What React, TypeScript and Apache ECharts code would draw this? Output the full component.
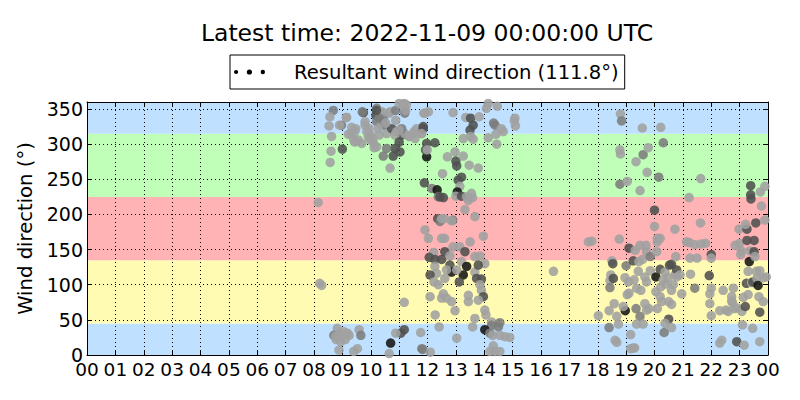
import React, { useEffect, useRef } from "react";
import * as echarts from "echarts";

const TITLE = "Latest time: 2022-11-09 00:00:00 UTC";
const LEGEND_NAME = "Resultant wind direction (111.8°)";
const Y_NAME = "Wind direction (°)";

// [hour of day, direction in degrees, shade index]
const morningPoints: number[][] = [
  [8.15,217,0],[8.2,102,0],[8.27,99,0],
  [8.68,348,1],[8.56,339,0],[8.53,326,0],[8.62,311,0],[8.6,290,0],[8.57,274,0],[9.0,293,2],[9.15,338,0],[8.97,327,1],
  [9.74,345,2],[9.33,324,0],[9.44,318,0],[9.21,314,0],[9.56,306,0],[9.8,327,0],[9.86,318,0],[9.91,311,0],[9.68,301,0],[9.44,303,0],[9.97,306,0],
  [10.21,351,1],[10.18,341,2],[10.32,344,0],[10.44,337,1],[10.68,346,0],[10.21,332,1],[10.38,327,0],[10.5,327,1],[10.26,322,0],[10.56,315,0],[10.74,322,2],[10.91,318,0],[11.09,313,2],[10.85,313,0],[11.2,315,0],[11.36,311,0],[11.5,315,0],[11.62,322,0],[11.85,325,2],[11.79,315,0],[11.56,308,0],[11.91,344,0],[12.03,346,0],
  [11.15,356,0],[11.26,356,0],[11.2,349,0],[11.2,344,1],[11.09,322,1],[11.0,303,2],[11.03,289,2],[10.85,294,2],[10.79,283,2],[10.44,283,1],[10.68,266,0],[10.56,294,1],[10.21,296,0],[10.09,303,0],[10.0,313,0],[10.12,295,0],[10.3,313,0],[10.65,344,0],[10.4,346,0],[10.3,337,1],[10.53,330,0],[10.88,334,0],[11.0,320,0],[11.35,311,0],[11.53,318,0],[9.3,315,0],[9.47,322,0],[9.4,306,0],[9.14,338,0],[8.9,327,0],[9.7,346,1],[9.8,332,0],[9.94,322,0],[10.06,308,0],[10.2,348,2],[10.88,348,1],[11.0,358,0],[11.18,358,0],[11.23,348,0],
  [11.97,301,2],[11.97,282,3],[11.93,292,2],[11.87,344,0],[11.85,322,2],[11.79,315,0],
  [8.82,38,0],[8.7,28,1],[8.76,26,0],[8.88,31,0],[8.94,19,0],[9.0,28,0],[9.18,31,0],[9.24,28,0],[9.06,33,0],[9.59,36,0],[9.65,28,1],[9.53,9,0],[9.4,5,0],[8.88,7,0],[8.78,22,0],[9.1,22,0],
  [11.18,75,0],[11.18,36,2],[11.06,31,2],[10.88,31,0],[10.7,17,3],[10.65,2,0],[11.76,32,0],[11.8,9,1],[11.83,8,1],
];

const noonPoints: number[][] = [
  [11.89,245,2],[12.15,237,1],[12.34,235,3],[12.38,225,1],[12.44,225,2],[12.56,224,2],[12.36,194,2],[12.44,190,1],[12.89,192,1],
  [12.26,302,2],[11.99,292,0],[12.9,345,0],[13.35,338,0],[13.52,337,2],[13.82,339,0],[13.61,327,2],[13.5,320,2],[13.52,311,0],[13.61,307,0],[13.26,308,0],
  [14.14,358,0],[14.46,354,0],[14.08,351,0],[14.38,327,1],[14.33,330,1],[14.67,318,0],[14.6,322,0],[14.41,314,0],[14.14,309,0],[14.44,300,0],[15.08,337,0],[15.1,326,0],[15.06,333,0],
  [12.97,289,0],[13.0,276,2],[13.03,269,2],[13.26,283,0],[13.47,270,0],[13.79,266,0],[12.7,282,0],[12.53,258,0],[13.2,253,2],[13.08,249,2],[13.14,240,0],
  [13.05,232,3],[13.0,226,0],[13.2,226,2],[13.38,225,0],[13.55,230,0],[13.44,220,0],[13.59,224,0],[13.32,207,0],[13.67,197,0],
  [11.91,178,0],[12.03,166,0],[12.5,166,0],[12.6,166,0],[12.5,194,0],[12.6,194,0],[12.85,191,0],[13.5,161,0],[13.97,169,0],[12.9,154,0],[13.14,154,0],
  [12.22,146,0],[12.06,139,2],[12.26,136,2],[12.5,136,2],[12.61,147,2],[12.79,141,0],[13.32,147,2],[13.67,140,0],[13.85,141,0],[13.2,133,0],[13.38,126,3],[13.26,114,3],[13.12,104,2],[12.79,128,2],[12.85,118,3],[12.26,126,0],[12.32,116,0],[12.09,114,2],[12.23,104,0],[12.38,100,0],[12.67,121,0],[12.61,109,0],[13.03,121,0],[13.67,118,0],[13.73,109,2],[13.9,108,2],[14.02,130,0],[13.79,128,2],[13.85,100,0],[13.9,92,0],[13.97,83,2],[13.79,78,0],[13.44,85,0],[13.44,76,0],[12.56,87,0],[12.67,81,0],[12.5,81,0],[12.85,76,0],[12.09,83,0],[12.97,63,0],[14.02,64,0],[14.06,57,0],[13.67,52,0],[13.59,40,0],[12.41,40,0],[12.27,57,0],
  [14.26,47,0],[14.55,46,1],[14.26,42,1],[14.5,40,1],[14.02,36,3],[14.2,31,1],[14.3,28,0],[14.55,28,0],[14.73,26,0],[14.9,25,0],[13.03,24,0],[14.32,13,0],[14.2,5,0],[14.38,5,0],[14.55,5,0],[12.1,4,0],
  [16.44,119,0],
];

const eveningPoints: number[][] = [
  [17.67,161,0],[17.79,162,0],[18.02,56,0],[18.4,39,1],[18.46,114,0],[18.5,134,0],[18.43,106,0],[18.43,96,1],[18.53,130,2],[18.55,109,2],[18.58,73,0],[18.4,63,0],[18.67,55,0],[18.73,44,0],[18.61,21,0],[18.67,18,0],[18.76,165,0],[18.8,343,0],[18.84,333,1],[18.78,292,0],[18.8,286,0],[18.78,243,1],
  [18.97,63,3],[18.9,69,0],[19.0,127,1],[18.96,110,0],[19.1,152,2],[19.04,247,0],[19.08,104,0],[19.04,86,0],[19.1,88,0],[19.16,29,0],[19.16,9,0],[19.25,10,0],[19.3,10,0],[19.25,134,2],[19.28,107,0],[19.35,66,1],[19.37,95,0],[19.43,119,0],[19.45,133,0],[19.32,149,0],[19.49,156,0],[19.49,55,1],[19.52,92,0],[19.37,44,0],[19.35,275,0],[19.49,234,0],[19.58,136,0],[19.6,285,1],[19.57,323,0],[19.7,156,0],[19.72,147,0],[19.66,111,0],[19.72,104,0],[19.66,73,0],[19.72,64,0],[19.6,44,0],[19.74,260,0],[19.78,295,0],[19.85,140,1],[19.85,120,0],[19.8,66,0],
];

const nightPoints: number[][] = [
  [20.0,206,2],[20.0,183,0],[20.05,111,3],[20.05,90,0],[20.1,66,0],[20.1,166,0],[20.08,147,0],[20.1,161,0],[20.2,166,0],[20.15,253,1],[20.22,324,0],[20.31,302,1],[20.2,122,2],[20.22,97,0],[20.2,83,0],[20.25,76,0],[20.31,107,0],[20.37,118,0],[20.4,101,0],[20.48,110,0],[20.53,128,2],[20.6,129,2],[20.5,51,2],[20.37,45,0],[20.6,39,0],[20.34,32,1],[20.5,76,0],[20.6,72,0],[20.6,92,0],[20.66,100,0],[20.72,114,0],[20.78,121,2],[20.78,111,0],[20.9,114,0],[20.72,179,0],[20.75,140,0],[20.96,87,0],
  [21.13,161,0],[21.23,160,0],[21.22,224,0],[21.25,138,0],[21.27,115,0],[21.42,157,0],[21.5,138,0],[21.42,95,1],[21.62,188,0],[21.63,251,0],[21.64,158,0],[21.8,159,0],[22.0,143,2],[22.0,138,0],[21.93,113,2],[22.0,95,0],[21.95,87,0],[21.95,73,0],[22.0,56,0],
  [22.37,21,0],[22.3,17,0],[22.3,63,0],[22.42,92,0],[22.52,64,0],[22.6,62,0],[22.72,83,0],[22.72,77,0],[22.78,95,0],[22.75,74,0],[22.82,66,0],[22.9,19,2],[22.92,67,0],[22.84,156,0],[22.98,179,0],
  [23.0,159,0],[23.04,143,0],[23.06,148,0],[23.08,62,0],[23.1,43,0],[23.13,82,0],[23.16,14,0],[23.2,69,2],[23.26,179,2],[23.21,186,0],[23.26,163,2],[23.3,119,0],[23.24,102,2],[23.3,86,0],[23.34,133,3],[23.36,148,0],[23.39,241,2],[23.39,228,2],[23.4,222,2],[23.42,103,0],[23.46,38,0],[23.47,104,2],[23.51,147,2],[23.51,163,2],[23.54,140,0],[23.57,188,2],[23.59,119,0],[23.61,109,0],[23.65,99,3],[23.68,83,0],[23.71,61,2],[23.71,19,0],[23.73,232,0],[23.77,212,0],[23.83,110,0],[23.83,76,0],[23.89,240,0],[23.89,192,0],[23.94,111,0],[23.71,120,0],
];

// sector bands: [from°, to°]
const bandRanges: number[][] = [
  [0, 45], [45, 135], [135, 225], [225, 315], [315, 360],
];
const bandColors = ["#bfe0ff", "#fffbb3", "#ffb3b5", "#bfffb8", "#bfe0ff"];
const shadeColors = ["#a0a0a0", "#7c7c7c", "#505050", "#151515"];

const FONT = "DejaVu Sans";

export default function App() {
  const ref = useRef<HTMLDivElement>(null);
  useEffect(() => {
    document.body.style.margin = "0";
    if (!ref.current) return;
    const chart = echarts.init(ref.current, null, { renderer: "svg" });
    const allPoints = [...morningPoints, ...noonPoints, ...eveningPoints, ...nightPoints];
    const pad2 = (v: number) => String(Math.round(v) % 24).padStart(2, "0");
    const dotted = { color: "#000", width: 1, type: [1, 3] as number[] };
    const common = { min: 0, interval: 1, max: 24, type: "value" as const };
    chart.setOption({
      animation: false,
      textStyle: { fontFamily: FONT },
      title: {
        text: TITLE,
        left: 427,
        textAlign: "center",
        top: 21,
        padding: 0,
        textStyle: { fontFamily: FONT, fontSize: 23.5, fontWeight: "normal", color: "#000" },
      },
      legend: {
        left: 230,
        top: 55,
        padding: [6, 6, 6, 4],
        borderColor: "#000",
        borderWidth: 1,
        borderRadius: 0,
        itemWidth: 31,
        itemHeight: 6,
        data: [
          {
            name: LEGEND_NAME,
            icon: "path://M0,3a2.1,2.1 0 1,0 4.2,0a2.1,2.1 0 1,0 -4.2,0ZM12.9,3a2.6,2.6 0 1,0 5.2,0a2.6,2.6 0 1,0 -5.2,0ZM26.8,3a2.2,2.2 0 1,0 4.4,0a2.2,2.2 0 1,0 -4.4,0Z",
            itemStyle: { color: "#000", opacity: 1 },
          },
        ],
        textStyle: { fontFamily: FONT, fontSize: 19.6, color: "#000", padding: [0, 0, 0, 24], lineHeight: 22 },
        selectedMode: false,
      },
      grid: { left: 87, right: 32, top: 102, bottom: 45 },
      xAxis: [
        {
          ...common,
          position: "bottom",
          z: 3,
          axisLine: { show: true, lineStyle: { color: "#000", width: 1 } },
          axisTick: { show: true, inside: true, length: 5, lineStyle: { color: "#000" } },
          axisLabel: { formatter: pad2, fontFamily: FONT, fontSize: 18.5, color: "#000", margin: 5 },
          splitLine: { show: true, lineStyle: dotted },
        },
        {
          ...common,
          position: "top",
          z: 3,
          axisLine: { show: true, onZero: false, lineStyle: { color: "#000", width: 1 } },
          axisTick: { show: true, inside: true, length: 5, lineStyle: { color: "#000" } },
          axisLabel: { show: false },
          splitLine: { show: false },
        },
      ],
      yAxis: [
        {
          type: "value",
          min: 0,
          max: 360,
          interval: 50,
          position: "left",
          z: 3,
          name: Y_NAME,
          nameLocation: "middle",
          nameGap: 47,
          nameTextStyle: { fontFamily: FONT, fontSize: 19.6, color: "#000" },
          axisLine: { show: true, lineStyle: { color: "#000", width: 1 } },
          axisTick: { show: true, inside: true, length: 5, lineStyle: { color: "#000" } },
          axisLabel: { showMaxLabel: false, fontFamily: FONT, fontSize: 19, color: "#000", margin: 4 },
          splitLine: { show: true, lineStyle: dotted },
        },
        {
          type: "value",
          min: 0,
          max: 360,
          interval: 50,
          position: "right",
          z: 3,
          axisLine: { show: true, onZero: false, lineStyle: { color: "#000", width: 1 } },
          axisTick: { show: true, inside: true, length: 5, lineStyle: { color: "#000" } },
          axisLabel: { show: false },
          splitLine: { show: false },
        },
      ],
      series: [
        {
          type: "scatter",
          name: "bands",
          z: 1,
          silent: true,
          data: [],
          markArea: {
            silent: true,
            data: bandRanges.map((r, i) => [
              { yAxis: r[0], xAxis: 0, itemStyle: { color: bandColors[i], opacity: 1 } },
              { yAxis: r[1], xAxis: 24 },
            ]),
          },
        },
        {
          type: "scatter",
          name: LEGEND_NAME,
          z: 5,
          symbol: "circle",
          symbolSize: 9.5,
          data: allPoints.map((p) => ({
            value: [p[0], p[1]],
            itemStyle: { color: shadeColors[p[2]] },
          })),
          itemStyle: { opacity: 0.88 },
        },
      ],
    });
    return () => chart.dispose();
  }, []);
  return <div ref={ref} style={{ width: 800, height: 400 }} />;
}
